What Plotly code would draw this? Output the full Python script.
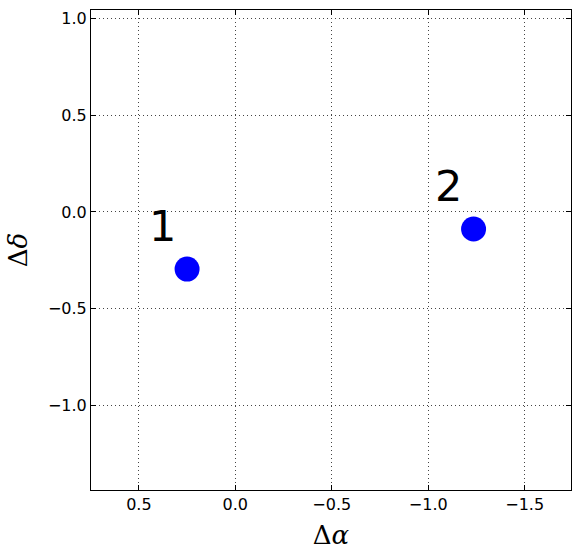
import plotly.graph_objects as go

# offsets of the two sources
labels = ["1", "2"]
d_alpha = [0.25, -1.235]
d_delta = [-0.295, -0.088]

x_ticks = [0.5, 0.0, -0.5, -1.0, -1.5]
x_ticktext = ["0.5", "0.0", "\u22120.5", "\u22121.0", "\u22121.5"]
y_ticks = [1.0, 0.5, 0.0, -0.5, -1.0]
y_ticktext = ["1.0", "0.5", "0.0", "\u22120.5", "\u22121.0"]

fig = go.Figure()

fig.add_trace(go.Scatter(
    x=d_alpha, y=d_delta,
    mode='markers',
    marker=dict(size=25, color='#0000ff', line=dict(width=0)),
    showlegend=False
))

# numbered labels sit up-left of each point
for lab, xa, yd in zip(labels, d_alpha, d_delta):
    fig.add_annotation(
        x=xa, y=yd, text=lab, showarrow=False,
        xshift=-25, yshift=43,
        font=dict(family='DejaVu Sans', size=43, color='black')
    )

axis_common = dict(
    showline=True, linecolor='black', linewidth=1, mirror='ticks',
    ticks='inside', ticklen=5, tickcolor='black', tickwidth=1,
    showgrid=True, gridcolor='#444444', gridwidth=1, griddash='1px,3px',
    zeroline=False,
    tickfont=dict(family='DejaVu Sans', size=16, color='black'),
)

fig.update_xaxes(
    range=[0.748, -1.74], tickvals=x_ticks, ticktext=x_ticktext,
    title=dict(text='\u0394<i>\u03b1</i>', standoff=12,
               font=dict(family='DejaVu Serif', size=26, color='black')),
    **axis_common
)
fig.update_yaxes(
    range=[-1.435, 1.042], tickvals=y_ticks, ticktext=y_ticktext,
    title=dict(text='\u0394<i>\u03b4</i>', standoff=12,
               font=dict(family='DejaVu Serif', size=26, color='black')),
    **axis_common
)

fig.update_layout(
    width=580, height=558,
    margin=dict(l=91, r=9, t=10, b=68),
    plot_bgcolor='white', paper_bgcolor='white',
)

# drop the browser's default body margin so the figure sits at 0,0
fig.write_html("out.html", config={'displayModeBar': False},
               post_script="document.body.style.margin='0';")
